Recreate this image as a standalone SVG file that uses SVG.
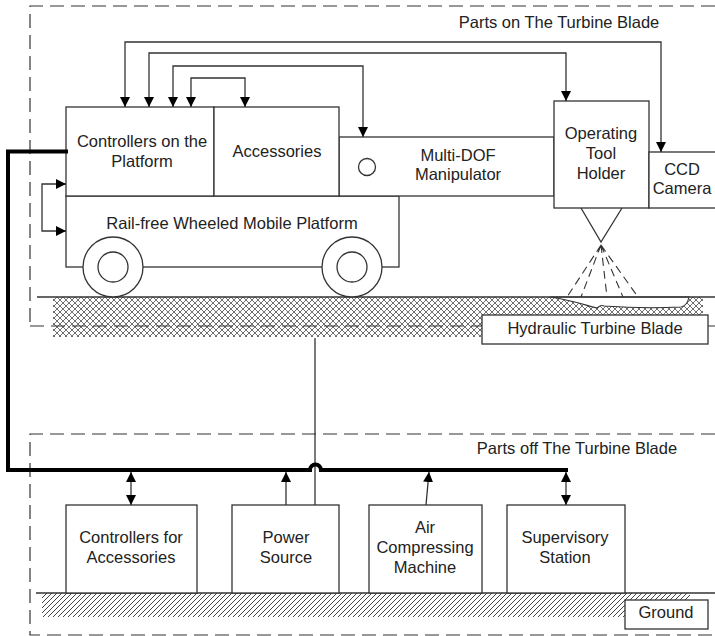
<svg xmlns="http://www.w3.org/2000/svg" width="715" height="636" viewBox="0 0 715 636">
  <style>
    .box { fill: #fff; stroke: #333; stroke-width: 1.3; }
    .ln { fill: none; stroke: #333; stroke-width: 1.3; }
    .dash { fill: none; stroke: #333; stroke-width: 1.2; stroke-dasharray: 14 7; }
    .spray { fill: none; stroke: #333; stroke-width: 1.1; stroke-dasharray: 8 5; }
    .bus { fill: none; stroke: #000; stroke-width: 4; }
    text { font-family: "Liberation Sans", Arial, sans-serif; font-size: 16.5px; fill: #222; text-anchor: middle; }
  </style>
  <defs>
    <marker id="arr" viewBox="0 0 10 10" refX="10" refY="5" markerWidth="10" markerHeight="10" markerUnits="userSpaceOnUse" orient="auto-start-reverse">
      <path d="M0,0 L10,5 L0,10 z" fill="#000"/>
    </marker>
    <pattern id="cross" width="6" height="6" patternUnits="userSpaceOnUse">
      <path d="M-1,1 L1,-1 M0,6 L6,0 M5,7 L7,5 M-1,5 L1,7 M0,0 L6,6 M5,-1 L7,1" stroke="#6f6f6f" stroke-width="1" fill="none"/>
    </pattern>
    <pattern id="diag" width="5" height="5" patternUnits="userSpaceOnUse">
      <path d="M-1,1 L1,-1 M0,5 L5,0 M4,6 L6,4" stroke="#444" stroke-width="1" fill="none"/>
    </pattern>
  </defs>

  <!-- zone frames -->
  <g id="zones">
    <path class="dash" d="M715,6 H30 V326"/>
    <rect x="53" y="297" width="650" height="40" fill="url(#cross)"/>
    <path class="dash" d="M30,326 H482 M708,326 H715"/>
    <path class="dash" d="M715,434 H30 V635 H715"/>
    <text x="559" y="28">Parts on The Turbine Blade</text>
    <text x="577" y="454">Parts off The Turbine Blade</text>
  </g>

  <!-- blade surface -->
  <g id="blade-surface">
    <path d="M550,297 C572,300 588,306 597,308 C599,306 601,304.5 604,306 C625,307.5 660,308 681,307 C686,306 688,302 689,297 Z" fill="#fff" stroke="#333" stroke-width="1.1"/>
    <path class="ln" d="M37,297 H715"/>
  </g>

  <g id="blade-label">
    <rect class="box" x="482" y="315" width="226" height="29"/>
    <text x="595" y="334">Hydraulic Turbine Blade</text>
  </g>

  <!-- ground -->
  <g id="ground">
    <rect x="42" y="593" width="648" height="24" fill="url(#diag)"/>
    <path class="ln" d="M36,593 H715"/>
    <rect class="box" x="625" y="600" width="83" height="29"/>
    <text x="666" y="618">Ground</text>
  </g>

  <!-- on-blade parts -->
  <g id="platform">
    <rect class="box" x="66" y="196" width="333" height="71"/>
    <text x="232" y="229">Rail-free Wheeled Mobile Platform</text>
    <circle class="box" cx="113" cy="267" r="30"/>
    <circle class="box" cx="113" cy="267" r="15"/>
    <circle class="box" cx="352" cy="267" r="30"/>
    <circle class="box" cx="352" cy="267" r="15"/>
  </g>

  <g id="manipulator">
    <rect class="box" x="339" y="137" width="215" height="59"/>
    <circle class="box" cx="367" cy="167" r="8.5"/>
    <text x="458" y="161">Multi-DOF</text>
    <text x="458" y="180">Manipulator</text>
  </g>

  <g id="controllers-platform">
    <rect class="box" x="66" y="107" width="148" height="89"/>
    <text x="142" y="147">Controllers on the</text>
    <text x="142" y="167">Platform</text>
  </g>

  <g id="accessories">
    <rect class="box" x="214" y="107" width="125" height="89"/>
    <text x="277" y="157">Accessories</text>
  </g>

  <g id="tool-holder">
    <rect class="box" x="554" y="101" width="95" height="107"/>
    <text x="601" y="139">Operating</text>
    <text x="601" y="159">Tool</text>
    <text x="601" y="179">Holder</text>
    <path class="ln" d="M581,208 L601,242 L622,208"/>
    <path class="spray" d="M601,245 L567,297 M601,245 L581,297 M601,245 L607,297 M601,245 L623,297 M601,245 L638,297"/>
  </g>

  <g id="ccd-camera">
    <rect class="box" x="649" y="152" width="80" height="56"/>
    <text x="682" y="175">CCD</text>
    <text x="682" y="194">Camera</text>
  </g>

  <!-- off-blade parts -->
  <g id="controllers-accessories">
    <rect class="box" x="66" y="505" width="131" height="88"/>
    <text x="131" y="543">Controllers for</text>
    <text x="131" y="563">Accessories</text>
  </g>

  <g id="power-source">
    <rect class="box" x="232" y="505" width="107" height="88"/>
    <text x="286" y="543">Power</text>
    <text x="286" y="563">Source</text>
  </g>

  <g id="air-compressor">
    <rect class="box" x="369" y="505" width="113" height="88"/>
    <text x="425" y="533">Air</text>
    <text x="425" y="553">Compressing</text>
    <text x="425" y="573">Machine</text>
  </g>

  <g id="supervisory-station">
    <rect class="box" x="507" y="505" width="118" height="88"/>
    <text x="565" y="543">Supervisory</text>
    <text x="565" y="563">Station</text>
  </g>

  <!-- connectors -->
  <g id="connectors">
    <path class="ln" d="M125,107 V42 H661 V152" marker-start="url(#arr)" marker-end="url(#arr)"/>
    <path class="ln" d="M149,107 V53 H566 V101" marker-start="url(#arr)" marker-end="url(#arr)"/>
    <path class="ln" d="M173,107 V66 H363 V137" marker-start="url(#arr)" marker-end="url(#arr)"/>
    <path class="ln" d="M191,107 V78 H245 V107" marker-start="url(#arr)" marker-end="url(#arr)"/>
    <path class="ln" d="M66,184 H42 V231 H66" marker-start="url(#arr)" marker-end="url(#arr)"/>
    <path class="ln" d="M315,338 V505"/>
    <path class="bus" d="M68,151.5 H8 V470 H310 a5.5,5.5 0 0 1 11,0 H568"/>
    <path class="ln" d="M131,472 V505" marker-start="url(#arr)" marker-end="url(#arr)"/>
    <path class="ln" d="M566,472 V505" marker-start="url(#arr)" marker-end="url(#arr)"/>
    <path class="ln" d="M286,505 V472" marker-end="url(#arr)"/>
    <path class="ln" d="M426,505 L429,472" marker-end="url(#arr)"/>
  </g>
</svg>
